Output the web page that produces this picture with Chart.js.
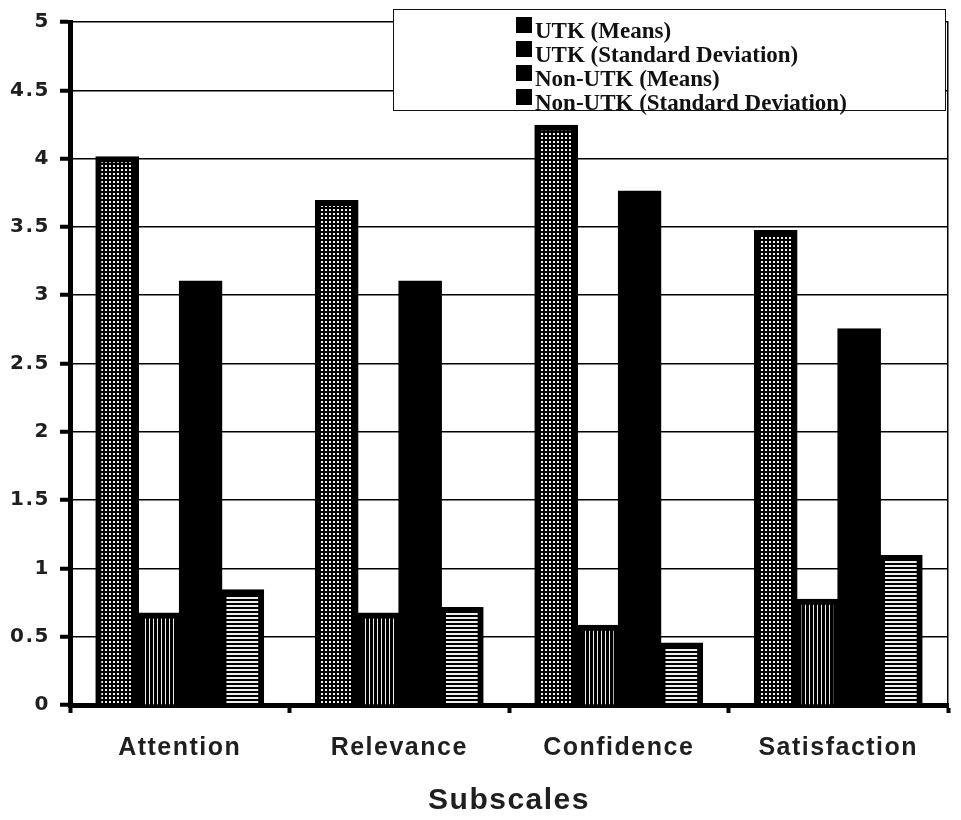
<!DOCTYPE html>
<html>
<head>
<meta charset="utf-8">
<title>Subscales</title>
<script src="https://cdn.jsdelivr.net/npm/chart.js@4.4.0/dist/chart.umd.min.js"></script>
<style>
  body { margin: 0; background: #fff; }
  .chart-wrapper { position: relative; width: 961px; height: 820px; }
  #legendBox {
    position: absolute; left: 393px; top: 9px; width: 553px; height: 102px;
    border: 1.5px solid #111; background: #fff;
    padding: 7px 0 0 122px; box-sizing: border-box;
    font: bold 23px "Liberation Serif", "Times New Roman", serif; color: #111;
    overflow: visible;
  }
  #legendBox .row { height: 24px; line-height: 24px; white-space: nowrap; }
  #legendBox .mark {
    display: inline-block; width: 16px; height: 16px; background: #000;
    margin-right: 3px; vertical-align: 5px;
  }
</style>
</head>
<body>
<div class="chart-wrapper">
  <canvas id="myChart"></canvas>
  <div id="legendBox"></div>
</div>
<script>
  // values
  const categories = ["Attention", "Relevance", "Confidence", "Satisfaction"];
  const seriesNames = ["UTK (Means)", "UTK (Standard Deviation)", "Non-UTK (Means)", "Non-UTK (Standard Deviation)"];
  const utkMeans = [4.01, 3.69, 4.24, 3.47];
  const utkSD = [0.67, 0.67, 0.58, 0.77];
  const nonUtkMeans = [3.10, 3.10, 3.76, 2.75];
  const nonUtkSD = [0.84, 0.71, 0.45, 1.09];
  const yTicks = [0, 0.5, 1, 1.5, 2, 2.5, 3, 3.5, 4, 4.5, 5];

  // little fill patterns like the old print
  function makePattern(draw) {
    const c = document.createElement("canvas");
    c.width = 4; c.height = 4;
    const g = c.getContext("2d");
    g.fillStyle = "#000";
    g.fillRect(0, 0, 4, 4);
    g.fillStyle = "#eeeeee";
    draw(g);
    return g.createPattern(c, "repeat");
  }
  const dots = makePattern(g => g.fillRect(1, 1, 2, 2));
  const vLines = makePattern(g => g.fillRect(1, 0, 1, 4));
  const hLines = makePattern(g => g.fillRect(0, 1, 4, 2));

  const fills = [dots, vLines, "#000", hLines];
  const values = [utkMeans, utkSD, nonUtkMeans, nonUtkSD];

  // html legend from the series names
  const legendBox = document.getElementById("legendBox");
  seriesNames.forEach(name => {
    const row = document.createElement("div");
    row.className = "row";
    row.innerHTML = '<span class="mark"></span>' + name;
    legendBox.appendChild(row);
  });

  const spacing = {
    id: "spacing",
    beforeDraw(chart) { chart.ctx.letterSpacing = "1.5px"; }
  };

  Chart.defaults.color = "#1f1f1f";

  const ctx = document.getElementById("myChart");
  const myChart = new Chart(ctx, {
    type: "bar",
    data: {
      labels: categories,
      datasets: seriesNames.map((name, i) => ({
        label: name,
        data: values[i],
        backgroundColor: fills[i],
        borderColor: "#000",
        borderWidth: 6,
        borderSkipped: "bottom",
        inflateAmount: 1,
        categoryPercentage: 0.76,
        barPercentage: 1.0
      }))
    },
    plugins: [spacing],
    options: {
      responsive: true,
      maintainAspectRatio: false,
      animation: false,
      layout: { padding: { top: 17, right: 13, left: 0, bottom: 0 } },
      plugins: {
        legend: { display: false },
        tooltip: { enabled: false }
      },
      scales: {
        x: {
          afterFit: s => { s.height = 115; },
          grid: {
            offset: true, drawOnChartArea: false, drawTicks: true,
            tickLength: 8, tickWidth: 4, tickColor: "#000"
          },
          border: { color: "#000", width: 5 },
          ticks: {
            autoSkip: false, maxRotation: 0, padding: 20,
            font: { family: "Liberation Sans, Arial, sans-serif", size: 25, weight: "bold" }
          },
          title: {
            display: true, text: "Subscales",
            font: { family: "Liberation Sans, Arial, sans-serif", size: 30, weight: "bold" },
            padding: { top: 0, bottom: 1 }
          }
        },
        y: {
          min: 0, max: 5,
          afterFit: s => { s.width = 70; },
          afterBuildTicks: s => { s.ticks = yTicks.map(v => ({ value: v })); },
          grid: {
            color: "#000", lineWidth: 1.5,
            tickLength: 10, tickWidth: 4, tickColor: "#000"
          },
          border: { color: "#000", width: 5 },
          ticks: {
            padding: 10,
            callback: v => String(v),
            font: { family: "DejaVu Sans, sans-serif", size: 20, weight: "bold" }
          }
        },
        y2: {
          position: "right", min: 0, max: 5,
          afterFit: s => { s.width = 0; },
          grid: { drawOnChartArea: false, drawTicks: false },
          border: { color: "#000", width: 1.5 },
          ticks: { display: false }
        }
      }
    }
  });
</script>
</body>
</html>
